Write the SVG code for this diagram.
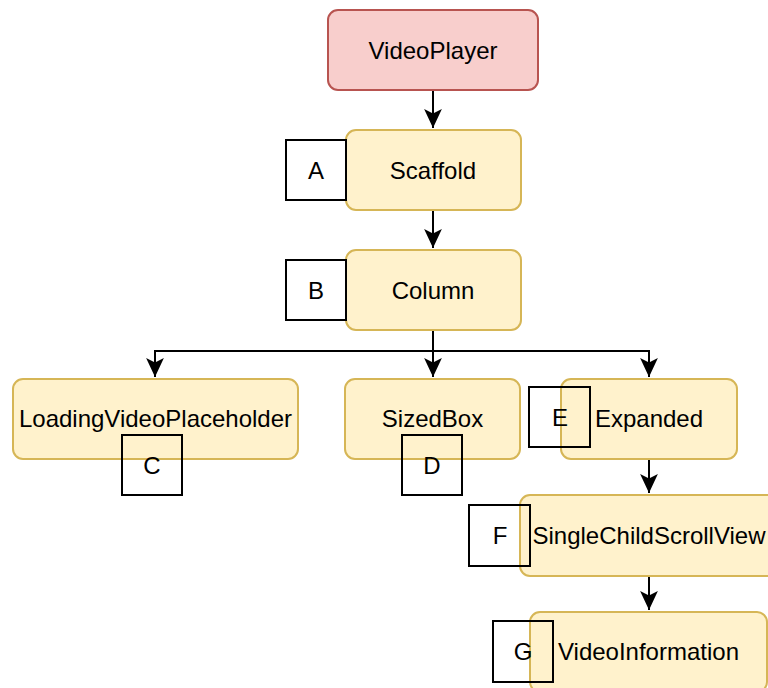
<svg xmlns="http://www.w3.org/2000/svg" width="768" height="688" viewBox="0 0 768 688">
<defs>
<style>
.node{fill:#fff2cc;stroke:#d6b656;stroke-width:2}
.root{fill:#f8cecc;stroke:#b85450;stroke-width:2}
.lbl{fill:none;stroke:#000;stroke-width:2}
text{font-family:"Liberation Sans",Arial,sans-serif;font-size:24px;fill:#000;text-anchor:middle;dominant-baseline:central}
.edge{fill:none;stroke:#000;stroke-width:2}
</style>
<marker id="arr" markerUnits="userSpaceOnUse" markerWidth="20" markerHeight="20" refX="17" refY="8" orient="auto" viewBox="0 0 18 16">
<path d="M0,0 L17,8 L0,16 L4,8 Z" fill="#000"/>
</marker>
</defs>
<rect width="768" height="688" fill="#fff"/>
<g id="connectors">
<path class="edge" d="M433,90 V128" marker-end="url(#arr)"/>
<path class="edge" d="M433,210 V248" marker-end="url(#arr)"/>
<path class="edge" d="M433,330 V351 H155 V377" marker-end="url(#arr)"/>
<path class="edge" d="M433,351 V377" marker-end="url(#arr)"/>
<path class="edge" d="M433,351 H649 V377" marker-end="url(#arr)"/>
<path class="edge" d="M649,459 V493" marker-end="url(#arr)"/>
<path class="edge" d="M649,576 V610" marker-end="url(#arr)"/>
</g>
<g id="videoplayer"><rect class="root" x="328" y="10" width="210" height="80" rx="10"/><text x="433" y="50">VideoPlayer</text></g>
<g id="scaffold"><rect class="node" x="346" y="130" width="175" height="80" rx="10"/><text x="433" y="170">Scaffold</text></g>
<g id="column"><rect class="node" x="346" y="250" width="175" height="80" rx="10"/><text x="433" y="290">Column</text></g>
<g id="loading"><rect class="node" x="13" y="379" width="285" height="80" rx="10"/><text x="155.5" y="418">LoadingVideoPlaceholder</text></g>
<g id="sizedbox"><rect class="node" x="345" y="379" width="175" height="80" rx="10"/><text x="432.5" y="418">SizedBox</text></g>
<g id="expanded"><rect class="node" x="561" y="379" width="176" height="80" rx="10"/><text x="649" y="418">Expanded</text></g>
<g id="scrollview"><rect class="node" x="520" y="495" width="258" height="81" rx="10"/><text x="649" y="535">SingleChildScrollView</text></g>
<g id="videoinfo"><rect class="node" x="530" y="612" width="237" height="80" rx="10"/><text x="648.5" y="651">VideoInformation</text></g>
<g id="labelA"><rect class="lbl" x="286" y="140" width="60" height="60"/><text x="316" y="170">A</text></g>
<g id="labelB"><rect class="lbl" x="286" y="260" width="60" height="60"/><text x="316" y="290">B</text></g>
<g id="labelC"><rect class="lbl" x="122" y="435" width="60" height="60"/><text x="152" y="465">C</text></g>
<g id="labelD"><rect class="lbl" x="402" y="435" width="60" height="60"/><text x="432" y="465">D</text></g>
<g id="labelE"><rect class="lbl" x="529" y="387" width="61" height="60"/><text x="560" y="417">E</text></g>
<g id="labelF"><rect class="lbl" x="469" y="505" width="61" height="61"/><text x="500" y="535">F</text></g>
<g id="labelG"><rect class="lbl" x="493" y="621" width="60" height="61"/><text x="523" y="651">G</text></g>
</svg>
